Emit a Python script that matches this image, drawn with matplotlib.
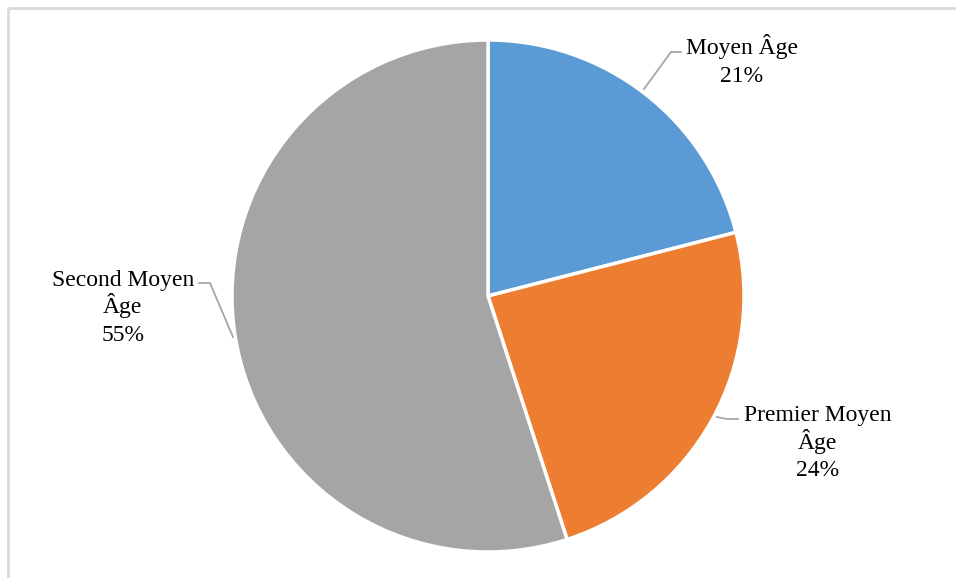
import numpy as np
import matplotlib.pyplot as plt

labels = [["Moyen Âge"], ["Premier Moyen", "Âge"], ["Second Moyen", "Âge"]]
shares = [21, 24, 55]
colors = ["#5B9BD5", "#ED7D31", "#A5A5A5"]

W, H = 956, 578
fig = plt.figure(figsize=(W / 100, H / 100), dpi=100)
ax = fig.add_axes([0, 0, 1, 1])

# pie center and radius in pixel units (y measured from the bottom)
cx, cy, r = 488, H - 296, 256
wedges, _ = ax.pie(shares, colors=colors, startangle=90, counterclock=False,
                   center=(cx, cy), radius=r, frame=True,
                   wedgeprops=dict(edgecolor="white", linewidth=2.5))
ax.set_xlim(0, W)
ax.set_ylim(0, H)
ax.set_aspect("equal")
ax.axis("off")

# label text with percentage, one line at a time (baseline step 27.5 px)
font = dict(family="Liberation Serif", fontsize=17, color="black")
anchors = [(742, 54), (818, 421), (123, 286)]  # x center, first baseline
for lines, s, (x, y0) in zip(labels, shares, anchors):
    for i, t in enumerate(lines + [f"{s}%"]):
        ax.text(x, H - (y0 + 27.5 * i), t, ha="center", va="baseline", **font)

# leader lines
lc = "#A6A6A6"
ax.plot([644, 671, 681], [H - 89, H - 52, H - 52], color=lc, lw=1.3)
ax.plot([717, 727, 738], [H - 417, H - 419, H - 419], color=lc, lw=1.3)
ax.plot([199, 210, 233], [H - 283, H - 283, H - 337], color=lc, lw=1.3)

# chart area border (top and left visible)
ax.plot([8, 8], [0, H - 8], color="#D9D9D9", lw=2, solid_capstyle="butt")
ax.plot([8, W], [H - 8, H - 8], color="#D9D9D9", lw=2, solid_capstyle="butt")

fig.savefig("out.png", dpi=100)
